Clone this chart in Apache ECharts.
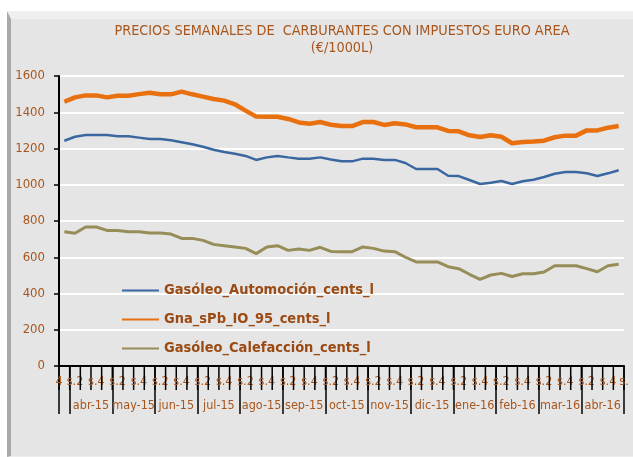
<!DOCTYPE html>
<html>
<head>
<meta charset="utf-8">
<script src="https://cdn.jsdelivr.net/npm/echarts@6/dist/echarts.min.js"></script>
<style>
  html, body { margin:0; padding:0; background:#ffffff; }
  #panel { position:absolute; left:7px; top:11px; width:622px; height:437px;
           background:#E5E5E5; border-left:4px solid #A9A9A9; border-top:8px solid #EFEFEF; border-bottom:1px solid #EDEDED; }
  #chart { position:absolute; left:0; top:0; width:633px; height:457px; }
</style>
</head>
<body>
<div id="panel"></div>
<div id="chart"></div>
<script>
// ---- data ----
const firstMonth = 'mar-15';
const months = ['abr-15','may-15','jun-15','jul-15','ago-15','sep-15','oct-15','nov-15','dic-15','ene-16','feb-16','mar-16','abr-16'];
const weekNames = ['s.1','s.2','s.3','s.4'];
const weekTickLabels = ['s.2','s.4'];
const edgeLabels = ['4', 's.'];
const yTicks = [0, 200, 400, 600, 800, 1000, 1200, 1400, 1600];

const seriesNames = ['Gasóleo_Automoción_cents_l', 'Gna_sPb_IO_95_cents_l', 'Gasóleo_Calefacción_cents_l'];
const gasoleoAuto = [1243,1265,1274,1274,1274,1267,1267,1260,1252,1252,1245,1234,1223,1210,1193,1181,1171,1159,1137,1151,
  1159,1151,1144,1144,1151,1139,1130,1129,1144,1144,1137,1137,1120,1087,1087,1087,1050,1048,1026,1004,
  1011,1021,1004,1019,1028,1043,1061,1070,1070,1063,1048,1063,1080];
const gna95 = [1458,1482,1493,1493,1482,1491,1491,1500,1508,1499,1499,1514,1499,1486,1473,1464,1444,1409,1376,1375,
  1375,1363,1344,1337,1346,1331,1324,1324,1346,1346,1330,1339,1333,1317,1317,1317,1297,1295,1273,1263,
  1273,1265,1229,1236,1238,1243,1262,1271,1271,1300,1300,1315,1324];
const gasoleoCalef = [741,732,767,767,748,748,741,741,734,734,728,704,704,693,671,664,657,649,620,657,
  664,638,646,638,655,632,631,631,657,649,634,631,600,574,574,574,548,537,506,478,
  502,511,494,509,509,519,553,553,553,537,520,553,561];

// ---- derived axis data ----
const categories = [firstMonth + ' s.4'];
months.forEach(m => weekNames.forEach(w => categories.push(m + ' ' + w)));
const nCat = categories.length; // 53

const monthData = new Array(nCat + 1).fill('');
months.forEach((m, k) => { monthData[1 + 4 * k + 2] = m; });

const brown = '#A8561C';
const axisFont = '"DejaVu Sans Condensed", "Liberation Sans", sans-serif';

function renderWeek(params, api) {
  const i = api.value(0);
  const p = api.coord([i, 0]);
  const bw = api.size([1, 0])[0];
  const left = p[0] - bw / 2, right = p[0] + bw / 2, y0 = p[1];
  const tick = (x) => ({ type: 'rect', shape: { x: x - 0.75, y: y0, width: 1.5, height: 24 },
                          style: { fill: '#000000' } });
  const label = (x, t) => ({ type: 'text', x: x, y: y0 + 9,
                          style: { text: t, fill: brown, fontSize: 12.5, fontFamily: axisFont,
                          align: 'center', verticalAlign: 'top' } });
  const children = [tick(left)];
  if (i === nCat - 1) children.push(tick(right));
  if (i % 2 === 1) children.push(label(p[0], weekTickLabels[((i - 1) / 2) % 2]));
  if (i === 0) children.push(label(left, edgeLabels[0]));
  if (i === nCat - 1) children.push(label(right, edgeLabels[1]));
  return { type: 'group', children: children };
}

const chart = echarts.init(document.getElementById('chart'), null, { renderer: 'canvas' });
chart.setOption({
  backgroundColor: 'transparent',
  animation: false,
  title: {
    text: 'PRECIOS SEMANALES DE  CARBURANTES CON IMPUESTOS EURO AREA\n(€/1000L)',
    left: 337, top: 18, textAlign: 'center',
    textStyle: { fontFamily: axisFont, fontSize: 14.3, fontWeight: 'normal', color: brown, lineHeight: 17, align: 'center' }
  },
  legend: {
    orient: 'vertical', left: 121, top: 283, padding: 0,
    itemWidth: 37, itemHeight: 14, itemGap: 14,
    data: seriesNames,
    itemStyle: { opacity: 0 },
    textStyle: { fontFamily: axisFont, fontSize: 14.5, lineHeight: 14, fontWeight: 'bold', color: '#9A4A12' }
  },
  grid: { left: 59, right: 9, top: 76, bottom: 91 },
  xAxis: [
    {
      type: 'category', data: categories, boundaryGap: true, position: 'bottom',
      axisLine: { show: true, lineStyle: { color: '#000', width: 2 } },
      axisTick: { show: false }, axisLabel: { show: false }, splitLine: { show: false }
    },
    {
      type: 'category', data: monthData, boundaryGap: false, position: 'bottom', offset: 0,
      axisLine: { show: false },
      axisTick: { show: true, interval: (i) => i === 0 || (i - 1) % 4 === 0, length: 48, lineStyle: { color: '#000', width: 1.5 } },
      axisLabel: { show: true, interval: (i, v) => v !== '', margin: 33, fontFamily: axisFont, fontSize: 12.5, color: brown },
      splitLine: { show: false }
    }
  ],
  yAxis: {
    type: 'value', min: yTicks[0], max: yTicks[yTicks.length - 1], interval: yTicks[1] - yTicks[0],
    axisLine: { show: true, lineStyle: { color: '#000', width: 2 } },
    axisTick: { show: true, length: 5, lineStyle: { color: '#000', width: 1.5 } },
    axisLabel: { margin: 14, fontFamily: axisFont, fontSize: 13, color: brown, formatter: (v) => String(v) },
    splitLine: { show: true, lineStyle: { color: '#FFFFFF', width: 2 } }
  },
  series: [
    { name: seriesNames[0], type: 'line', xAxisIndex: 0, data: gasoleoAuto, symbol: 'none', color: '#3B67A0',
      lineStyle: { width: 2.5, color: '#3B67A0' }, z: 3 },
    { name: seriesNames[1], type: 'line', xAxisIndex: 0, data: gna95, symbol: 'none', color: '#E8700F',
      lineStyle: { width: 4.5, color: '#E8700F' }, z: 4 },
    { name: seriesNames[2], type: 'line', xAxisIndex: 0, data: gasoleoCalef, symbol: 'none', color: '#978D58',
      lineStyle: { width: 3, color: '#978D58' }, z: 3 },
    { name: 'weekAxis', type: 'custom', xAxisIndex: 0, clip: false, silent: true, z: 5,
      data: categories.map((c, i) => [i, 0]), encode: { x: 0, y: 1 }, renderItem: renderWeek }
  ]
});
</script>
</body>
</html>
